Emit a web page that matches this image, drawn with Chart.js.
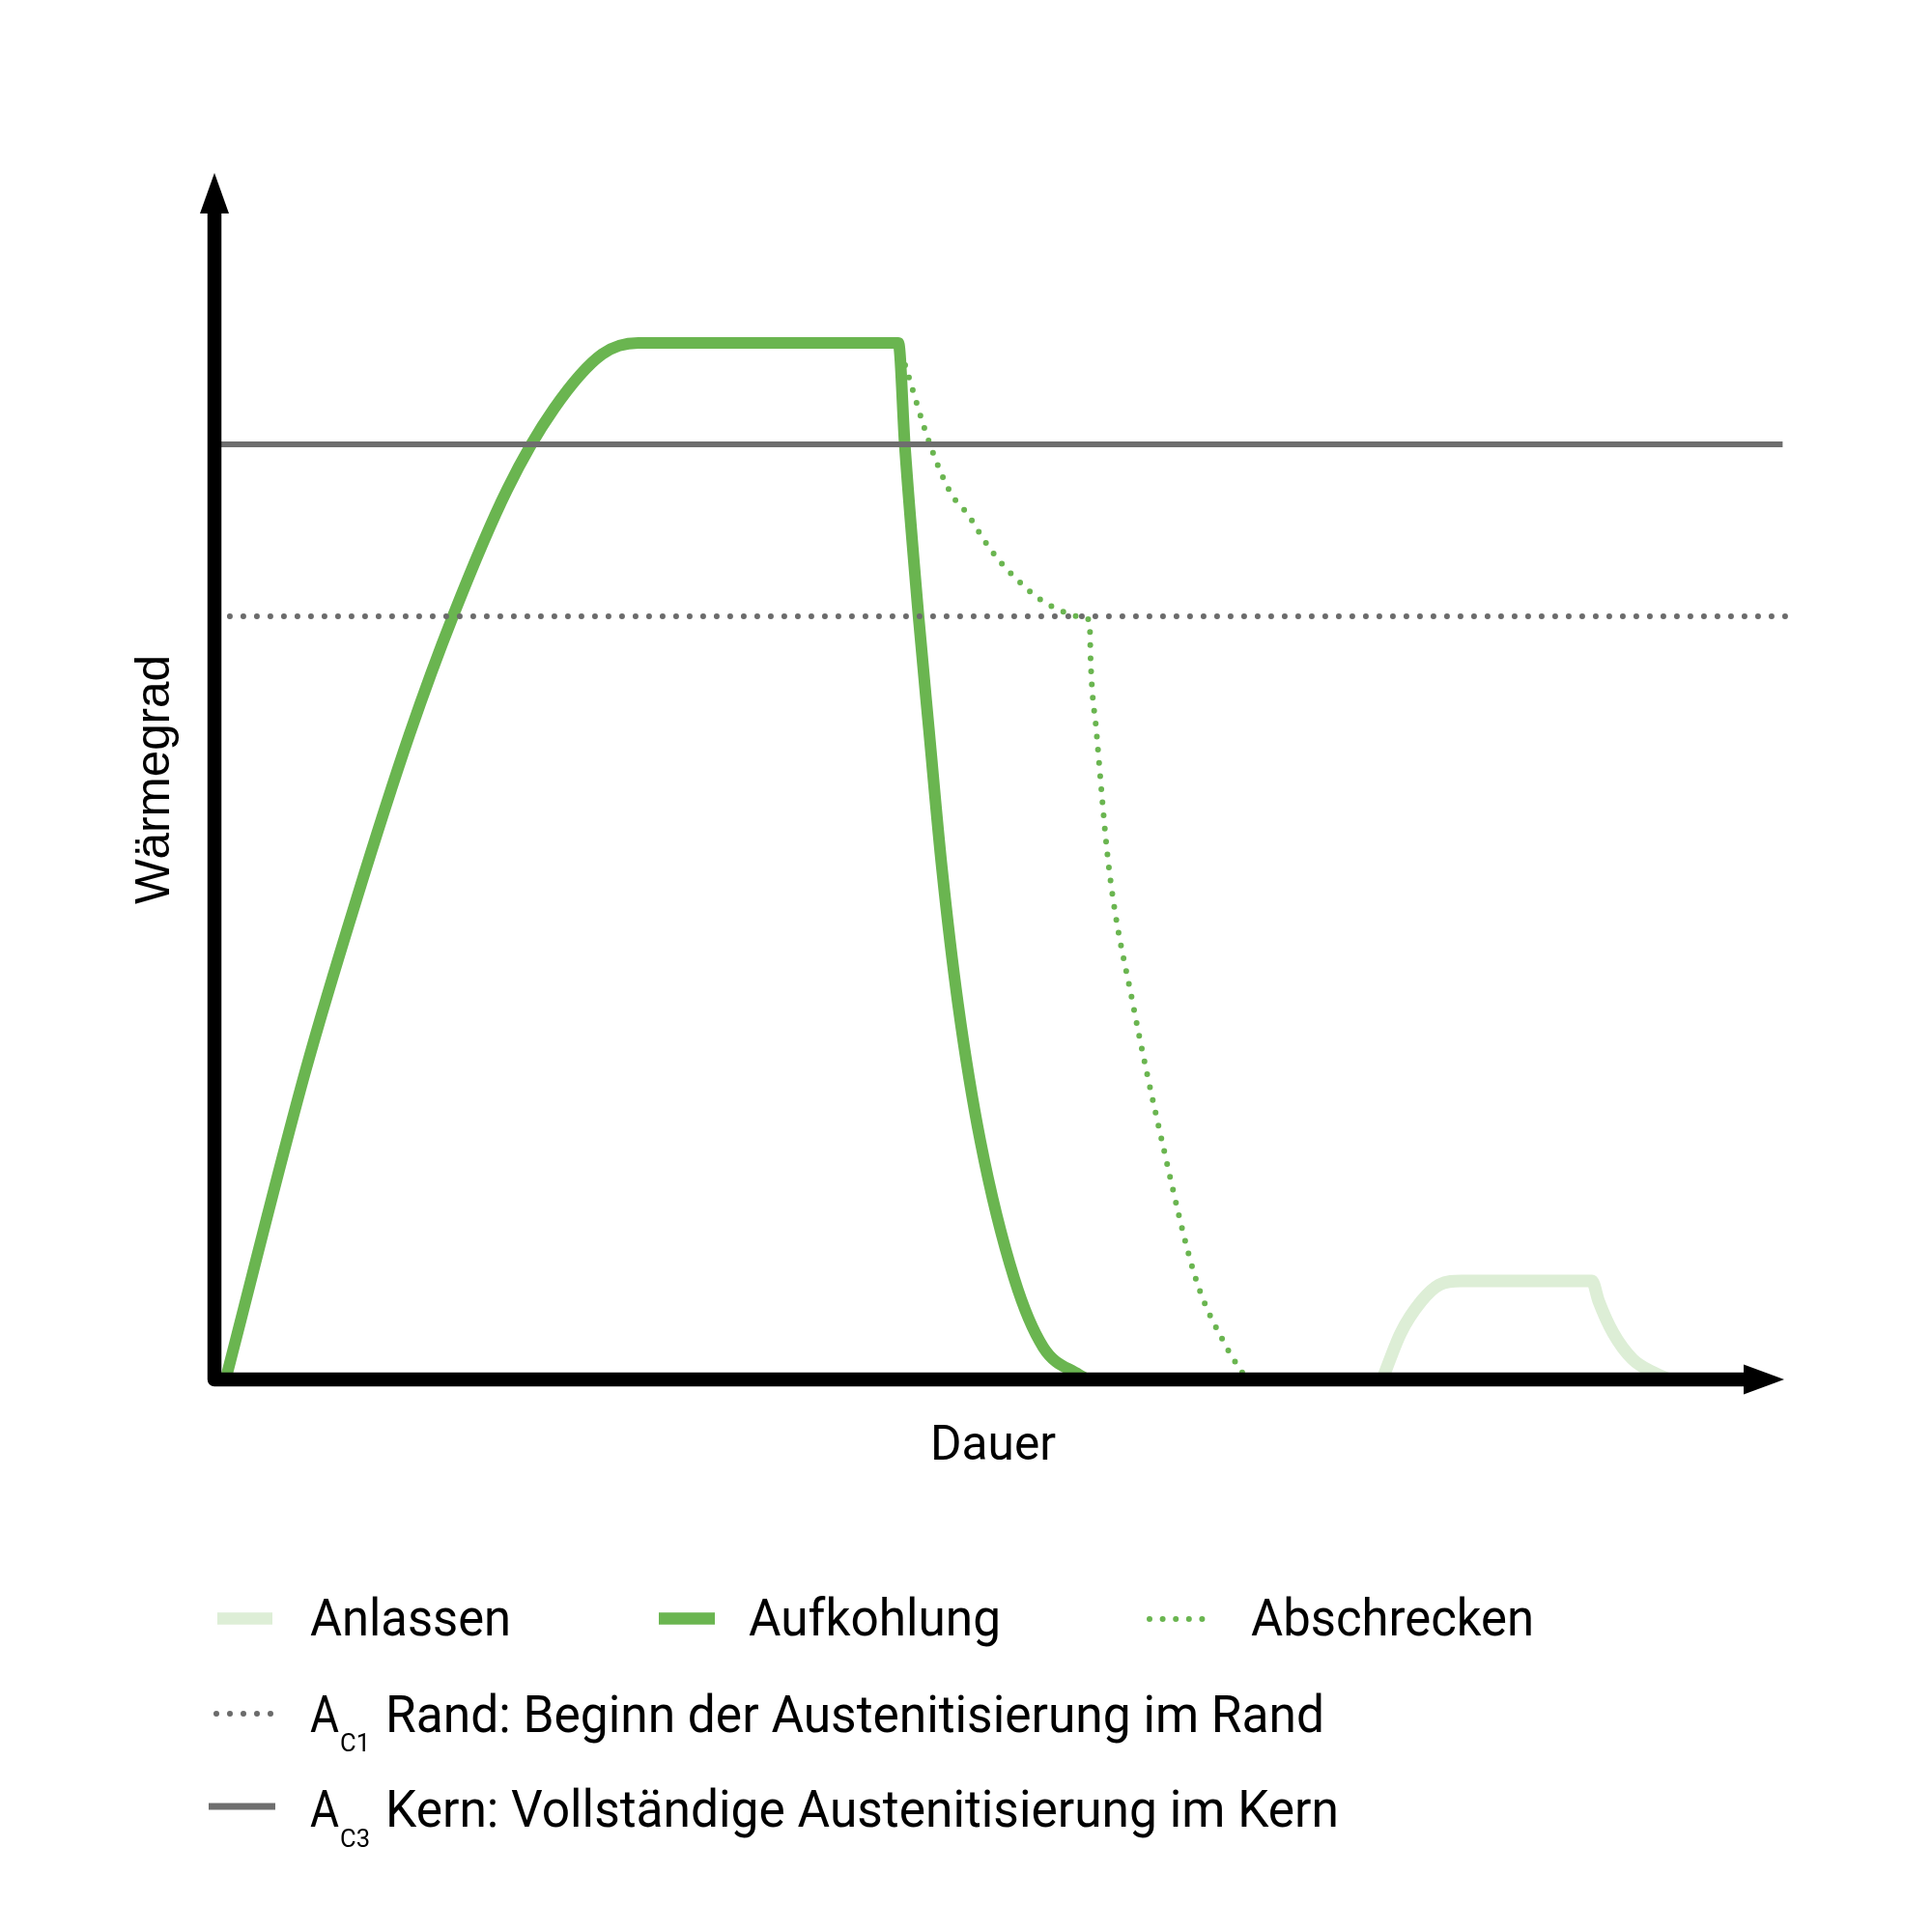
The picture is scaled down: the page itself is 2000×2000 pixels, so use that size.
<!DOCTYPE html>
<html><head><meta charset="utf-8">
<script src="https://cdn.jsdelivr.net/npm/chart.js@4"></script>
<style>html,body{margin:0;padding:0;background:#fff}canvas{display:block}</style>
</head><body>
<canvas id="c" width="2000" height="2000" style="width:2000px;height:2000px"></canvas>
<script>
// ---- data (time units 0..100, temperature units 0..100) ----
const xTitle = 'Dauer';
const yTitle = 'Wärmegrad';
const seriesNames = ['Anlassen', 'Aufkohlung', 'Abschrecken'];
const refSymbol = ['A', 'A'];
const refSub = ['C1', 'C3'];
const refNames = ['Rand: Beginn der Austenitisierung im Rand', 'Kern: Vollständige Austenitisierung im Kern'];

const aufkohlungX = [0.71, 5.83, 9.0, 12.43, 15.22, 18.65, 21.62, 24.7, 27.0, 43.57, 43.98, 44.85, 45.52, 46.34, 47.37, 48.8, 50.95, 52.8, 55.06, 55.6];
const aufkohlungY = [0, 25.72, 39.6, 53.48, 63.35, 73.76, 80.44, 84.97, 85.9, 85.9, 77.4, 63.3, 53.8, 42.4, 31.1, 19.7, 8.36, 2.67, 0.4, 0];

const abschreckenX = [44.0, 45.6, 46.89, 48.06, 48.98, 50.03, 51.2, 52.55, 54.03, 55.32, 55.75, 55.82, 56.18, 56.98, 58.52, 60.37, 62.52, 64.49, 65.72];
const abschreckenY = [84.07, 77.42, 73.5, 71.58, 69.66, 67.81, 66.21, 64.69, 63.65, 63.17, 62.85, 59.49, 53.8, 42.43, 31.06, 19.7, 8.33, 2.64, 0.08];

const anlassenX = [74.4, 75.57, 76.9, 78.03, 79.45, 87.75, 88.18, 89.11, 90.34, 91.57, 92.68];
const anlassenY = [0, 3.84, 6.51, 7.85, 8.17, 8.17, 6.5, 3.84, 1.68, 0.64, 0];

const ac1Level = 63.25;   // A_C1 Rand
const ac3Level = 77.5;    // A_C3 Kern
const refLineX = [0.98, 100.2];
const refLine3X = [0, 99.9];

// ---- helpers ----
const pts = (xs, ys) => xs.map((x, i) => ({x: x, y: ys[i]}));
const GREEN = '#6ab550';
const LIGHT = '#ddeed6';
const GRAY = '#6e6e6e';

const dsA3 = {label: 'AC3', data: pts(refLine3X, refLine3X.map(() => ac3Level)), borderColor: GRAY, borderWidth: 6, tension: 0, clip: false};
const dsA1 = {label: 'AC1', data: pts(refLineX, refLineX.map(() => ac1Level)), borderColor: '#6b6b6b', borderWidth: 6, borderDash: [0, 14], borderCapStyle: 'round', tension: 0, clip: false};
const dsAbs = {label: seriesNames[2], data: pts(abschreckenX, abschreckenY), borderColor: GREEN, borderWidth: 6, borderDash: [0, 13.6], borderCapStyle: 'round', cubicInterpolationMode: 'monotone', clip: false};
const dsAuf = {label: seriesNames[1], data: pts(aufkohlungX, aufkohlungY), borderColor: GREEN, borderWidth: 12, cubicInterpolationMode: 'monotone', borderJoinStyle: 'miter', clip: false};
const dsAnl = {label: seriesNames[0], data: pts(anlassenX, anlassenY), borderColor: LIGHT, borderWidth: 13, cubicInterpolationMode: 'monotone', clip: false};

function fitText(ctx, text, x, y, w, font, align) {
  ctx.save();
  ctx.font = font;
  ctx.textAlign = align || 'left';
  ctx.textBaseline = 'alphabetic';
  const m = ctx.measureText(text).width;
  ctx.translate(x, y);
  ctx.scale(w / m, 1);
  ctx.fillText(text, 0, 0);
  ctx.restore();
}

const axesPlugin = {
  id: 'arrowAxes',
  afterDatasetsDraw(chart) {
    const ctx = chart.ctx, a = chart.chartArea;
    const x0 = chart.scales.x.getPixelForValue(0);
    const y0 = chart.scales.y.getPixelForValue(0);
    ctx.save();
    ctx.strokeStyle = '#000'; ctx.fillStyle = '#000';
    ctx.lineWidth = 14.5; ctx.lineJoin = 'round'; ctx.lineCap = 'butt';
    ctx.beginPath();
    ctx.moveTo(x0, a.top + 42);
    ctx.lineTo(x0, y0);
    ctx.lineTo(a.right - 42, y0);
    ctx.stroke();
    ctx.beginPath();
    ctx.moveTo(x0, a.top);
    ctx.lineTo(x0 - 15, a.top + 42);
    ctx.lineTo(x0 + 15, a.top + 42);
    ctx.closePath(); ctx.fill();
    ctx.beginPath();
    ctx.moveTo(a.right, y0);
    ctx.lineTo(a.right - 42, y0 - 15.5);
    ctx.lineTo(a.right - 42, y0 + 15.5);
    ctx.closePath(); ctx.fill();
    ctx.restore();
  }
};

const legendPlugin = {
  id: 'customLegend',
  afterDraw(chart) {
    const ctx = chart.ctx;
    ctx.save();
    ctx.fillStyle = '#000';
    const F = '53px Roboto, "Liberation Sans", sans-serif';
    fitText(ctx, xTitle, 1028, 1511, 130, '50px Roboto, "Liberation Sans", sans-serif', 'center');
    ctx.save();
    ctx.translate(175, 807);
    ctx.rotate(-Math.PI / 2);
    fitText(ctx, yTitle, 0, 0, 258, '50px "Liberation Sans", Arial, sans-serif', 'center');
    ctx.restore();

    function swatch(ds, x1, x2, y, lw) {
      ctx.save();
      ctx.strokeStyle = ds.borderColor;
      ctx.lineWidth = lw;
      ctx.setLineDash(ds.borderDash || []);
      ctx.lineCap = ds.borderCapStyle || 'butt';
      ctx.beginPath(); ctx.moveTo(x1, y); ctx.lineTo(x2, y); ctx.stroke();
      ctx.restore();
    }
    swatch(dsAnl, 225, 282, 1675.5, 12.5);
    fitText(ctx, seriesNames[0], 321, 1693, 208, F);
    swatch(dsAuf, 682, 740, 1675.5, 12.5);
    fitText(ctx, seriesNames[1], 775, 1693, 261, F);
    swatch(dsAbs, 1190, 1253, 1676, 6);
    fitText(ctx, seriesNames[2], 1295, 1693, 293, F);

    swatch(dsA1, 224, 286, 1774, 6);
    fitText(ctx, refSymbol[0], 321, 1793, 30, F);
    fitText(ctx, refSub[0], 352, 1813, 31, '25px Roboto, sans-serif');
    fitText(ctx, refNames[0], 399, 1793, 972, F);

    swatch(dsA3, 216, 285, 1870, 7);
    fitText(ctx, refSymbol[1], 321, 1891, 30, F);
    fitText(ctx, refSub[1], 352, 1912, 31, '25px Roboto, sans-serif');
    fitText(ctx, refNames[1], 399, 1891, 987, F);
    ctx.restore();
  }
};

new Chart(document.getElementById('c'), {
  type: 'line',
  data: {datasets: [dsA3, dsA1, dsAbs, dsAuf, dsAnl]},
  options: {
    responsive: false,
    animation: false,
    devicePixelRatio: 1,
    layout: {padding: {left: 222, right: 153, top: 179, bottom: 572}},
    scales: {
      x: {type: 'linear', min: 0, max: 100, display: false},
      y: {type: 'linear', min: 0, max: 100, display: false}
    },
    elements: {point: {radius: 0, hoverRadius: 0}},
    plugins: {legend: {display: false}, tooltip: {enabled: false}}
  },
  plugins: [axesPlugin, legendPlugin]
});
</script>
</body></html>
